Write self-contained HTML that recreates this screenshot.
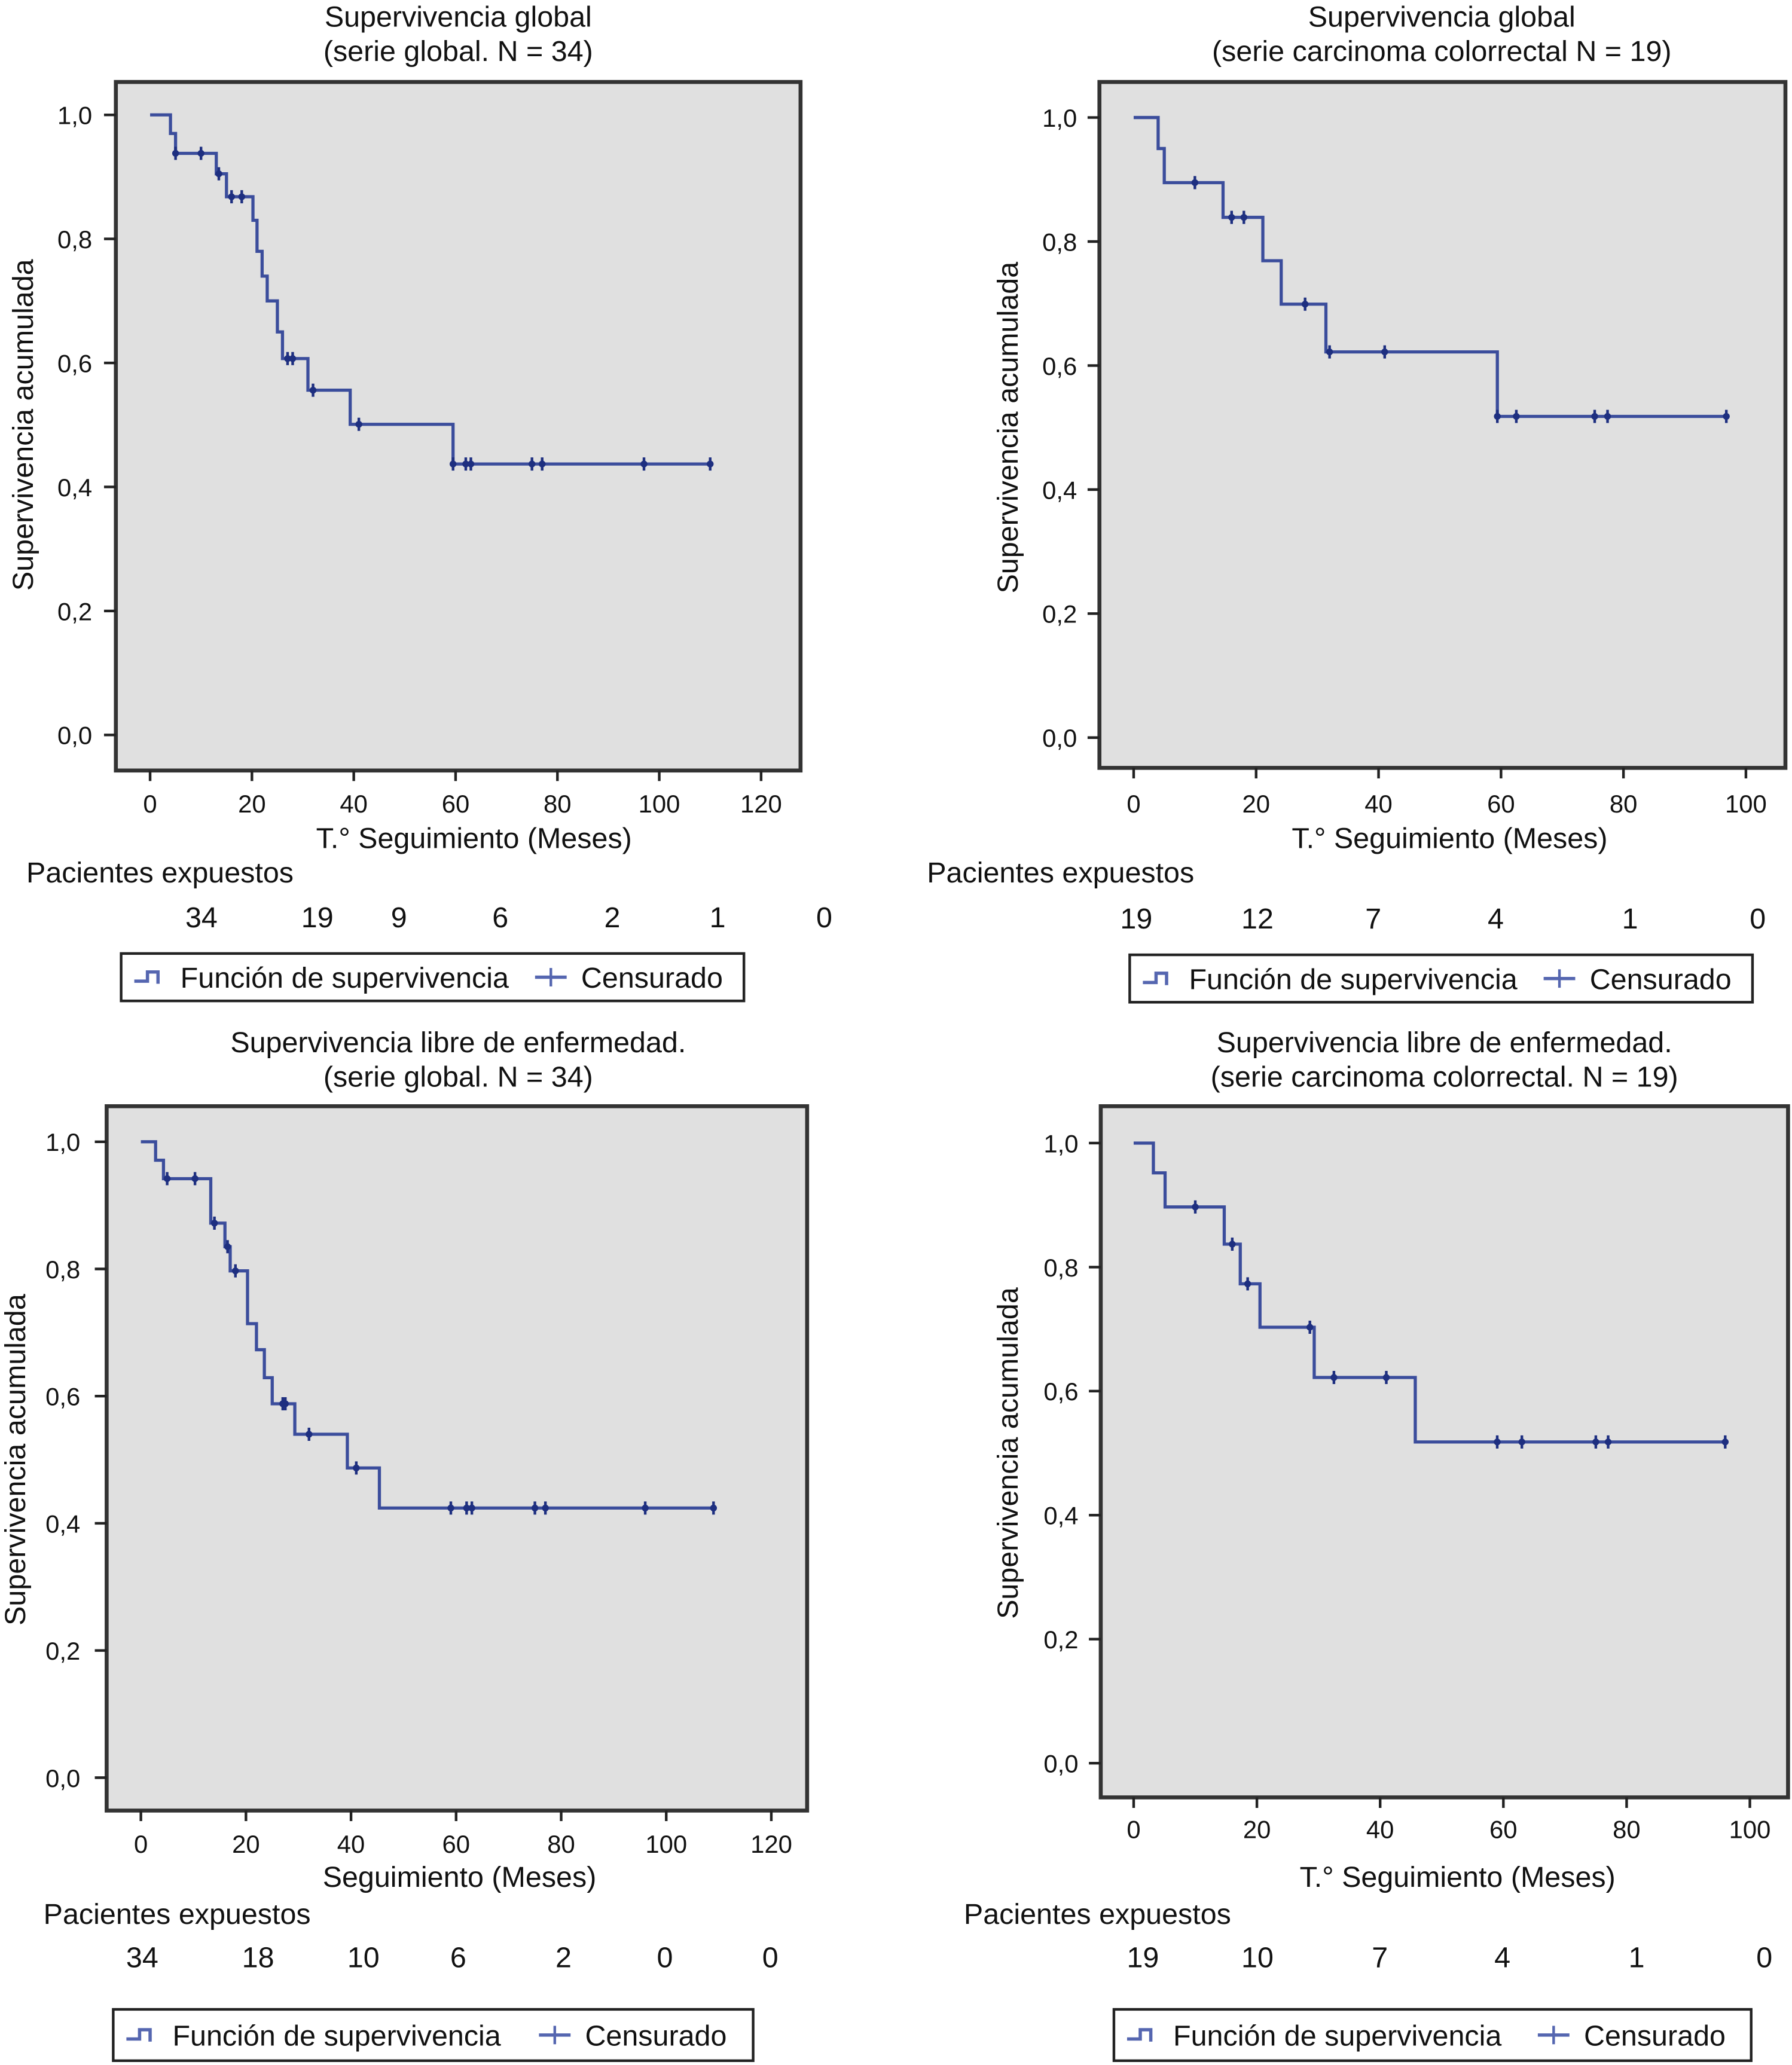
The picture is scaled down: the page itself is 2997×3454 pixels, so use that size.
<!DOCTYPE html>
<html><head><meta charset="utf-8">
<style>
html,body{margin:0;padding:0;background:#fff;}
svg{display:block;}
text{font-family:"Liberation Sans",Arial,sans-serif;fill:#111;}
</style></head>
<body>
<svg id="root" xmlns="http://www.w3.org/2000/svg" width="2997" height="3454" viewBox="0 0 1361 1568">
<rect x="0" y="0" width="1361" height="1568" fill="#fff"/>
</svg>
<script>
// ---- Panel A: global survival, global series ----
const aStepTimes = [0, 4, 5, 13, 15, 20.2, 21, 22, 23, 25, 26, 27, 31, 39.3, 59.5];
const aStepSurv  = [1.0, 0.97, 0.938, 0.905, 0.868, 0.83, 0.78, 0.74, 0.70, 0.65, 0.607, 0.607, 0.556, 0.501, 0.437];
const aCensor    = [5, 10, 13.5, 16, 18, 27, 28, 32, 41, 59.5, 62, 63, 75, 77, 97, 110];
const aRisk      = ["34", "19", "9", "6", "2", "1", "0"];
const aXTicks    = [0, 20, 40, 60, 80, 100, 120];
// ---- Panel B: global survival, colorectal ----
const bStepTimes = [0, 4, 5, 14.6, 21.1, 24.1, 31.4, 59.4];
const bStepSurv  = [1.0, 0.95, 0.895, 0.839, 0.769, 0.699, 0.622, 0.518];
const bCensor    = [10, 16, 18, 28, 32, 41, 59.4, 62.5, 75.3, 77.4, 96.8];
const bRisk      = ["19", "12", "7", "4", "1", "0"];
const bXTicks    = [0, 20, 40, 60, 80, 100];
// ---- Panel C: disease-free survival, global ----
const cStepTimes = [0, 2.8, 4.3, 13.3, 16, 17, 20.3, 22, 23.5, 25, 29.3, 39.3, 45.4];
const cStepSurv  = [1.0, 0.971, 0.942, 0.872, 0.835, 0.797, 0.714, 0.673, 0.629, 0.588, 0.54, 0.487, 0.424];
const cCensor    = [5, 10.3, 14, 16.5, 18, 27, 27.5, 32, 41, 59, 62, 63, 75, 77, 96, 109];
const cRisk      = ["34", "18", "10", "6", "2", "0", "0"];
const cXTicks    = [0, 20, 40, 60, 80, 100, 120];
// ---- Panel D: disease-free survival, colorectal ----
const dStepTimes = [0, 3.2, 5.1, 14.7, 17.3, 20.5, 29.3, 45.7];
const dStepSurv  = [1.0, 0.952, 0.897, 0.837, 0.773, 0.703, 0.622, 0.518];
const dCensor    = [10, 16, 18.5, 28.6, 32.5, 41, 59, 63, 75, 77, 96];
const dRisk      = ["19", "10", "7", "4", "1", "0"];
const dXTicks    = [0, 20, 40, 60, 80, 100];
const yTicks     = [0, 0.2, 0.4, 0.6, 0.8, 1.0];

const NS = "http://www.w3.org/2000/svg";
const root = document.getElementById('root');
const LINE = "#3b4d9c";
const FS = 22, TFS = 19;
function mk(tag, attrs, parent, txt){
  const e = document.createElementNS(NS, tag);
  for (const k in attrs) e.setAttribute(k, attrs[k]);
  if (txt !== undefined) e.textContent = txt;
  (parent || root).appendChild(e);
  return e;
}

const panels = [
  {id:'a', title:["Supervivencia global","(serie global. N = 34)"], tcx:348, ty:20,
   frame:[88,62,608,585], x0:114, xPer:3.867, y1:87, y0:558, xmax:120,
   times:aStepTimes, surv:aStepSurv, cens:aCensor, risk:aRisk, xt:aXTicks, endT:110,
   ytx:70, ytitleX:25, xlabY:617, xtitle:"T.° Seguimiento (Meses)", xtcx:360, xtY:644,
   pacX:20, pacY:670, riskY:704, riskX:[153,241,303,380,465,545,626], leg:[92,724,565,760]},
  {id:'b', title:["Supervivencia global","(serie carcinoma colorrectal N = 19)"], tcx:1095, ty:20,
   frame:[835,62,1356,583], x0:861, xPer:4.65, y1:89, y0:560, xmax:100,
   times:bStepTimes, surv:bStepSurv, cens:bCensor, risk:bRisk, xt:bXTicks, endT:96.8,
   ytx:818, ytitleX:773, xlabY:617, xtitle:"T.° Seguimiento (Meses)", xtcx:1101, xtY:644,
   pacX:704, pacY:670, riskY:705, riskX:[863,955,1043,1136,1238,1335], leg:[858,725,1331,761]},
  {id:'c', title:["Supervivencia libre de enfermedad.","(serie global. N = 34)"], tcx:348, ty:799,
   frame:[81,840,613,1375], x0:107, xPer:3.99, y1:867, y0:1350, xmax:120,
   times:cStepTimes, surv:cStepSurv, cens:cCensor, risk:cRisk, xt:cXTicks, endT:109,
   ytx:61, ytitleX:19, xlabY:1407, xtitle:"Seguimiento (Meses)", xtcx:349, xtY:1433,
   pacX:33, pacY:1461, riskY:1494, riskX:[108,196,276,348,428,505,585], leg:[86,1526,572,1565]},
  {id:'d', title:["Supervivencia libre de enfermedad.","(serie carcinoma colorrectal. N = 19)"], tcx:1097, ty:799,
   frame:[836,840,1358,1365], x0:861, xPer:4.68, y1:868, y0:1339, xmax:100,
   times:dStepTimes, surv:dStepSurv, cens:dCensor, risk:dRisk, xt:dXTicks, endT:96,
   ytx:819, ytitleX:773, xlabY:1396, xtitle:"T.° Seguimiento (Meses)", xtcx:1107, xtY:1433,
   pacX:732, pacY:1461, riskY:1494, riskX:[868,955,1048,1141,1243,1340], leg:[846,1526,1330,1565]}
];

panels.forEach(p => {
  const g = mk('g', {});
  
  
  const xs = t => p.x0 + t * p.xPer;
  const ys = v => p.y0 - v * (p.y0 - p.y1);
  p.title.forEach((line, i) => {
    const t = mk('text', {x:p.tcx, y:p.ty + i*26, 'text-anchor':'middle', 'font-size':FS}, g, line);
    
    
  });
  const [fx1, fy1, fx2, fy2] = p.frame;
  const fr = mk('rect', {x:fx1, y:fy1, width:fx2-fx1, height:fy2-fy1, fill:'#e0e0e0', stroke:'#333', 'stroke-width':3}, g);
  
  
  yTicks.forEach(v => {
    const y = ys(v);
    mk('line', {x1:fx1-9, x2:fx1, y1:y, y2:y, stroke:'#222', 'stroke-width':2}, g);
    const t = mk('text', {x:p.ytx, y:y+7, 'text-anchor':'end', 'font-size':TFS}, g, v.toFixed(1).replace('.', ','));
    
    
  });
  const yc = (p.y1 + p.y0) / 2;
  const yt = mk('text', {x:p.ytitleX, y:yc, 'text-anchor':'middle', 'font-size':FS, transform:`rotate(-90 ${p.ytitleX} ${yc})`}, g, 'Supervivencia acumulada');
  
  
  p.xt.forEach(v => {
    const x = xs(v);
    mk('line', {x1:x, x2:x, y1:fy2, y2:fy2+8, stroke:'#222', 'stroke-width':2}, g);
    const t = mk('text', {x:x, y:p.xlabY, 'text-anchor':'middle', 'font-size':TFS}, g, String(v));
    
    
  });
  const xt = mk('text', {x:p.xtcx, y:p.xtY, 'text-anchor':'middle', 'font-size':FS}, g, p.xtitle);
  
  
  const pc = mk('text', {x:p.pacX, y:p.pacY, 'font-size':FS}, g, 'Pacientes expuestos');
  
  
  p.risk.forEach((r, i) => {
    const t = mk('text', {x:p.riskX[i], y:p.riskY, 'text-anchor':'middle', 'font-size':FS}, g, r);
    
    
  });
  let d = `M${xs(p.times[0])},${ys(p.surv[0])}`;
  for (let i = 1; i < p.times.length; i++) {
    d += ` H${xs(p.times[i])} V${ys(p.surv[i])}`;
  }
  d += ` H${xs(p.endT)}`;
  const path = mk('path', {d:d, fill:'none', stroke:LINE, 'stroke-width':2.4}, g);
  
  
  const survAt = t => { let s = p.surv[0]; for (let i = 0; i < p.times.length; i++) if (p.times[i] <= t) s = p.surv[i]; return s; };
  p.cens.forEach(t => {
    const x = xs(t), y = ys(survAt(t));
    const m = mk('g', {}, g);
    
    
    mk('line', {x1:x, x2:x, y1:y-5, y2:y+5, stroke:'#1e2f80', 'stroke-width':2}, m);
    mk('circle', {cx:x, cy:y, r:2.6, fill:'#1e2f80'}, m);
  });
  const [lx1, ly1, lx2, ly2] = p.leg;
  const lg = mk('g', {}, g);
  
  
  mk('rect', {x:lx1, y:ly1, width:lx2-lx1, height:ly2-ly1, fill:'#fff', stroke:'#222', 'stroke-width':2}, lg);
  const ly = (ly1 + ly2) / 2;
  mk('path', {d:`M${lx1+10},${ly+3} H${lx1+20} V${ly-4} H${lx1+28} V${ly+5}`, fill:'none', stroke:'#5566b0', 'stroke-width':2.5}, lg);
  const e1 = mk('text', {x:lx1+45, y:ly+8, 'font-size':FS}, lg, 'Función de supervivencia');
  
  
  const cx = lx1 + (lx2-lx1)*0.69;
  mk('line', {x1:cx-12, x2:cx+12, y1:ly, y2:ly, stroke:'#5566b0', 'stroke-width':2.5}, lg);
  mk('line', {x1:cx, x2:cx, y1:ly-7, y2:ly+7, stroke:'#5566b0', 'stroke-width':2}, lg);
  const e2 = mk('text', {x:cx+23, y:ly+8, 'font-size':FS}, lg, 'Censurado');
  
  
});
</script>
</body></html>
